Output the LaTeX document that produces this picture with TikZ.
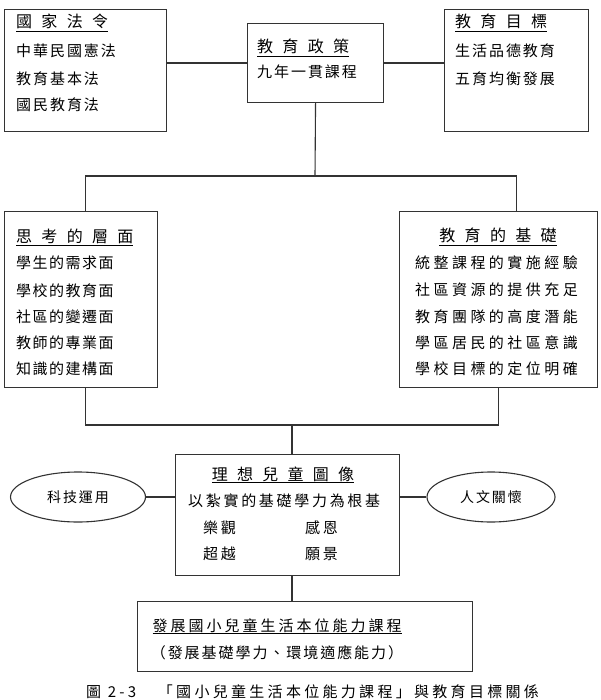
\documentclass[tikz,border=0pt]{standalone}
\usepackage{fontspec}
\usetikzlibrary{shapes.geometric}
\newfontfamily\cjk{Noto Sans CJK TC}
\newcommand\ttl[1]{\underline{\addfontfeature{LetterSpace=58}#1}}
\newcommand\ls[2]{\addfontfeature{LetterSpace=#1}#2}
\tikzset{
  x=1pt, y=-1pt,
  box/.style={draw=black!80, line width=1.1pt, rectangle, anchor=north west, inner sep=0pt},
  oval/.style={draw=black!80, line width=1.1pt, ellipse, inner sep=0pt, minimum height=50pt, font=\cjk\fontsize{14}{16}\selectfont},
  txt/.style={anchor=base west, inner sep=0pt, font=\cjk\fontsize{15}{18}\selectfont},
  ctxt/.style={anchor=base, inner sep=0pt, font=\cjk\fontsize{15}{18}\selectfont},
  ttlf/.style={font=\cjk\fontsize{16}{18}\selectfont},
  link/.style={draw=black!80, line width=1.1pt}
}
\begin{document}
\begin{tikzpicture}
\useasboundingbox (0,0) rectangle (601,700);
\clip (0,0) rectangle (601,700);
% boxes
\node[box, minimum width=162pt, minimum height=122pt] (b1) at (4,9) {};
\node[box, minimum width=136pt, minimum height=79pt] (b2) at (247,23) {};
\node[box, minimum width=144pt, minimum height=122pt] (b3) at (444,9) {};
\node[box, minimum width=153pt, minimum height=176pt] (b4) at (4,211) {};
\node[box, minimum width=198pt, minimum height=176pt] (b5) at (399,211) {};
\node[box, minimum width=224pt, minimum height=121pt] (b6) at (175,454) {};
\node[box, minimum width=335pt, minimum height=70pt] (b7) at (137,601) {};
\node[oval, minimum width=135pt] (e1) at (78,497) {\ls{14}{科技運用}};
\node[oval, minimum width=128pt] (e2) at (491,497) {\ls{14}{人文關懷}};
% box 1
\node[txt, ttlf] (t11) at (16,28) {\ttl{國家法令}};
\node[txt] (t12) at (16,57) {\ls{13}{中華民國憲法}};
\node[txt] (t13) at (16,85) {\ls{13}{教育基本法}};
\node[txt] (t14) at (16,111) {\ls{13}{國民教育法}};
% box 2
\node[txt, ttlf] (t21) at (257,53) {\ttl{教育政策}};
\node[txt] (t22) at (257,78) {\ls{13}{九年一貫課程}};
% box 3
\node[txt, ttlf] (t31) at (455,28) {\ttl{教育目標}};
\node[txt] (t32) at (455,57) {\ls{13}{生活品德教育}};
\node[txt] (t33) at (455,85) {\ls{13}{五育均衡發展}};
% box 4
\node[txt, ttlf] (t41) at (16,243) {\ttl{思考的層面}};
\node[txt] (t42) at (16,269) {\ls{10}{學生的需求面}};
\node[txt] (t43) at (16,296) {\ls{10}{學校的教育面}};
\node[txt] (t44) at (16,322) {\ls{10}{社區的變遷面}};
\node[txt] (t45) at (16,348) {\ls{10}{教師的專業面}};
\node[txt] (t46) at (16,374) {\ls{10}{知識的建構面}};
% box 5
\node[ctxt, ttlf] (t51) at (498,242) {\ttl{教育的基礎}};
\node[txt] (t52) at (415,269) {\ls{23}{統整課程的實施經驗}};
\node[txt] (t53) at (415,295) {\ls{23}{社區資源的提供充足}};
\node[txt] (t54) at (415,322) {\ls{23}{教育團隊的高度潛能}};
\node[txt] (t55) at (415,348) {\ls{23}{學區居民的社區意識}};
\node[txt] (t56) at (415,374) {\ls{23}{學校目標的定位明確}};
% box 6
\node[ctxt, ttlf] (t61) at (283,480) {\ttl{理想兒童圖像}};
\node[txt] (t62) at (188,506) {\ls{18}{以紮實的基礎學力為根基}};
\node[txt] (t63) at (203,533) {\ls{18}{樂觀}};
\node[txt] (t64) at (305,533) {\ls{18}{感恩}};
\node[txt] (t65) at (203,559) {\ls{18}{超越}};
\node[txt] (t66) at (305,559) {\ls{18}{願景}};
% box 7
\node[ctxt] (t71) at (277,631) {\underline{\ls{20}{發展國小兒童生活本位能力課程}}};
\node[ctxt] (t72) at (277,658) {\ls{13}{（發展基礎學力、環境適應能力）}};
% caption
\node[txt] (cap) at (86,697.5) {\ls{22}{圖 2-3　「國小兒童生活本位能力課程」與教育目標關係}};
% connectors
\draw[link] (b2.west) -- (b2.west -| b1.east);
\draw[link] (b2.east) -- (b2.east -| b3.west);
\coordinate (j1) at (315,176);
\draw[link] (b2.south) -- (j1);
\draw[link] ([xshift=4.5pt]b4.north) |- (j1) -| ([xshift=18pt]b5.north);
\coordinate (j2) at (292,425);
\draw[link] ([xshift=4.5pt]b4.south) |- (j2) -| (b5.south);
\draw[link] (j2) -- (j2 |- b6.north);
\draw[link] (e1.east) -- (e1.east -| b6.west);
\draw[link] (e2.west) -- (e2.west -| b6.east);
\draw[link] (b6.south -| j2) -- (b7.north -| j2);
\end{tikzpicture}
\end{document}
